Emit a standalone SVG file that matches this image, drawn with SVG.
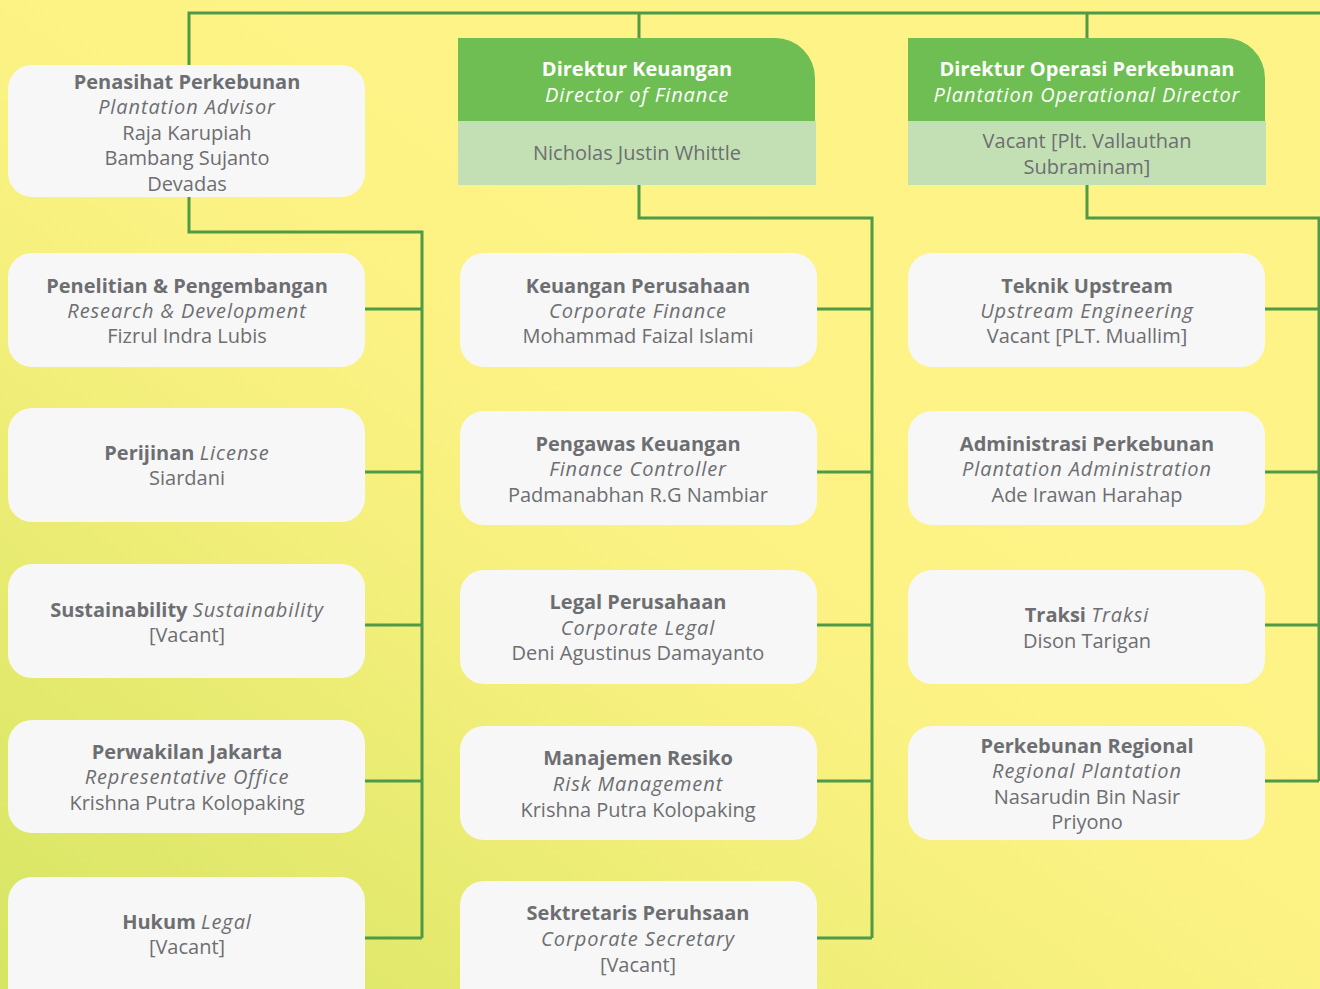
<svg xmlns="http://www.w3.org/2000/svg" width="1320" height="989" viewBox="0 0 1320 989">
<defs>
<linearGradient id="bg" x1="0" y1="1" x2="0.75" y2="0.2">
<stop offset="0" stop-color="#D6E564"/>
<stop offset="0.25" stop-color="#E5EA6E"/>
<stop offset="0.5" stop-color="#F6F07E"/>
<stop offset="0.7" stop-color="#FDF385"/>
<stop offset="1" stop-color="#FEF387"/>
</linearGradient>
<style>
.box{fill:#F7F7F7}
.hd{fill:#6EBE53}
.hl{fill:#C3E0B4}
.ln{fill:none;stroke:#4F9A47;stroke-width:3}
text{font-family:"Open Sans","Liberation Sans",sans-serif;font-size:20px;fill:#6D6E71;text-anchor:middle}
.b{font-weight:bold}
.i{font-style:italic;letter-spacing:0.9px}
.w{fill:#FFFFFF}
</style>
</defs>
<rect x="0" y="0" width="1320" height="989" fill="url(#bg)"/>
<g id="connectors">
<path class="ln" d="M189,65 V13 H1320 M639,13 V38 M1087,13 V38"/>
<path class="ln" d="M189,197 V232 H422 V938 M365,309 H422 M365,472 H422 M365,625 H422 M365,781 H422 M365,938 H422"/>
<path class="ln" d="M639,185 V218 H872 V938 M817,309 H872 M817,472 H872 M817,625 H872 M817,781 H872 M817,938 H872"/>
<path class="ln" d="M1087,185 V218 H1319 V781 M1265,309 H1319 M1265,472 H1319 M1265,625 H1319 M1265,781 H1319"/>
</g>
<g id="penasihat">
<rect class="box" x="8" y="65" width="357" height="132" rx="24"/>
<text x="187" y="89" class="b">Penasihat Perkebunan</text>
<text x="187" y="114" class="i">Plantation Advisor</text>
<text x="187" y="140">Raja Karupiah</text>
<text x="187" y="165">Bambang Sujanto</text>
<text x="187" y="191">Devadas</text>
</g>
<g id="penelitian">
<rect class="box" x="8" y="253" width="357" height="114" rx="24"/>
<text x="187" y="293" class="b">Penelitian &amp; Pengembangan</text>
<text x="187" y="318" class="i">Research &amp; Development</text>
<text x="187" y="343">Fizrul Indra Lubis</text>
</g>
<g id="perijinan">
<rect class="box" x="8" y="408" width="357" height="114" rx="24"/>
<text x="187" y="460"><tspan class="b">Perijinan</tspan> <tspan class="i">License</tspan></text>
<text x="187" y="485">Siardani</text>
</g>
<g id="sustainability">
<rect class="box" x="8" y="564" width="357" height="114" rx="24"/>
<text x="187" y="617"><tspan class="b">Sustainability</tspan> <tspan class="i">Sustainability</tspan></text>
<text x="187" y="642">[Vacant]</text>
</g>
<g id="perwakilan">
<rect class="box" x="8" y="720" width="357" height="113" rx="24"/>
<text x="187" y="759" class="b">Perwakilan Jakarta</text>
<text x="187" y="784" class="i">Representative Office</text>
<text x="187" y="810">Krishna Putra Kolopaking</text>
</g>
<g id="hukum">
<rect class="box" x="8" y="877" width="357" height="140" rx="24"/>
<text x="187" y="929"><tspan class="b">Hukum</tspan> <tspan class="i">Legal</tspan></text>
<text x="187" y="954">[Vacant]</text>
</g>
<g id="dir-keuangan">
<path class="hd" d="M458,38 H775 A40,40 0 0 1 815,78 V121 H458 Z"/>
<rect class="hl" x="458" y="121" width="358" height="64"/>
<text x="637" y="76" class="b w">Direktur Keuangan</text>
<text x="637" y="102" class="i w">Director of Finance</text>
<text x="637" y="160">Nicholas Justin Whittle</text>
</g>
<g id="keuangan-perusahaan">
<rect class="box" x="460" y="253" width="357" height="114" rx="24"/>
<text x="638" y="293" class="b">Keuangan Perusahaan</text>
<text x="638" y="318" class="i">Corporate Finance</text>
<text x="638" y="343">Mohammad Faizal Islami</text>
</g>
<g id="pengawas-keuangan">
<rect class="box" x="460" y="411" width="357" height="114" rx="24"/>
<text x="638" y="451" class="b">Pengawas Keuangan</text>
<text x="638" y="476" class="i">Finance Controller</text>
<text x="638" y="502">Padmanabhan R.G Nambiar</text>
</g>
<g id="legal-perusahaan">
<rect class="box" x="460" y="570" width="357" height="114" rx="24"/>
<text x="638" y="609" class="b">Legal Perusahaan</text>
<text x="638" y="635" class="i">Corporate Legal</text>
<text x="638" y="660">Deni Agustinus Damayanto</text>
</g>
<g id="manajemen-resiko">
<rect class="box" x="460" y="726" width="357" height="114" rx="24"/>
<text x="638" y="765" class="b">Manajemen Resiko</text>
<text x="638" y="791" class="i">Risk Management</text>
<text x="638" y="817">Krishna Putra Kolopaking</text>
</g>
<g id="sektretaris">
<rect class="box" x="460" y="881" width="357" height="140" rx="24"/>
<text x="638" y="920" class="b">Sektretaris Peruhsaan</text>
<text x="638" y="946" class="i">Corporate Secretary</text>
<text x="638" y="972">[Vacant]</text>
</g>
<g id="dir-operasi">
<path class="hd" d="M908,38 H1225 A40,40 0 0 1 1265,78 V121 H908 Z"/>
<rect class="hl" x="908" y="121" width="358" height="64"/>
<text x="1087" y="76" class="b w">Direktur Operasi Perkebunan</text>
<text x="1087" y="102" class="i w">Plantation Operational Director</text>
<text x="1087" y="148">Vacant [Plt. Vallauthan</text>
<text x="1087" y="174">Subraminam]</text>
</g>
<g id="teknik-upstream">
<rect class="box" x="908" y="253" width="357" height="114" rx="24"/>
<text x="1087" y="293" class="b">Teknik Upstream</text>
<text x="1087" y="318" class="i">Upstream Engineering</text>
<text x="1087" y="343">Vacant [PLT. Muallim]</text>
</g>
<g id="administrasi">
<rect class="box" x="908" y="411" width="357" height="114" rx="24"/>
<text x="1087" y="451" class="b">Administrasi Perkebunan</text>
<text x="1087" y="476" class="i">Plantation Administration</text>
<text x="1087" y="502">Ade Irawan Harahap</text>
</g>
<g id="traksi">
<rect class="box" x="908" y="570" width="357" height="114" rx="24"/>
<text x="1087" y="622"><tspan class="b">Traksi</tspan> <tspan class="i">Traksi</tspan></text>
<text x="1087" y="648">Dison Tarigan</text>
</g>
<g id="perkebunan-regional">
<rect class="box" x="908" y="726" width="357" height="114" rx="24"/>
<text x="1087" y="753" class="b">Perkebunan Regional</text>
<text x="1087" y="778" class="i">Regional Plantation</text>
<text x="1087" y="804">Nasarudin Bin Nasir</text>
<text x="1087" y="829">Priyono</text>
</g>
</svg>
